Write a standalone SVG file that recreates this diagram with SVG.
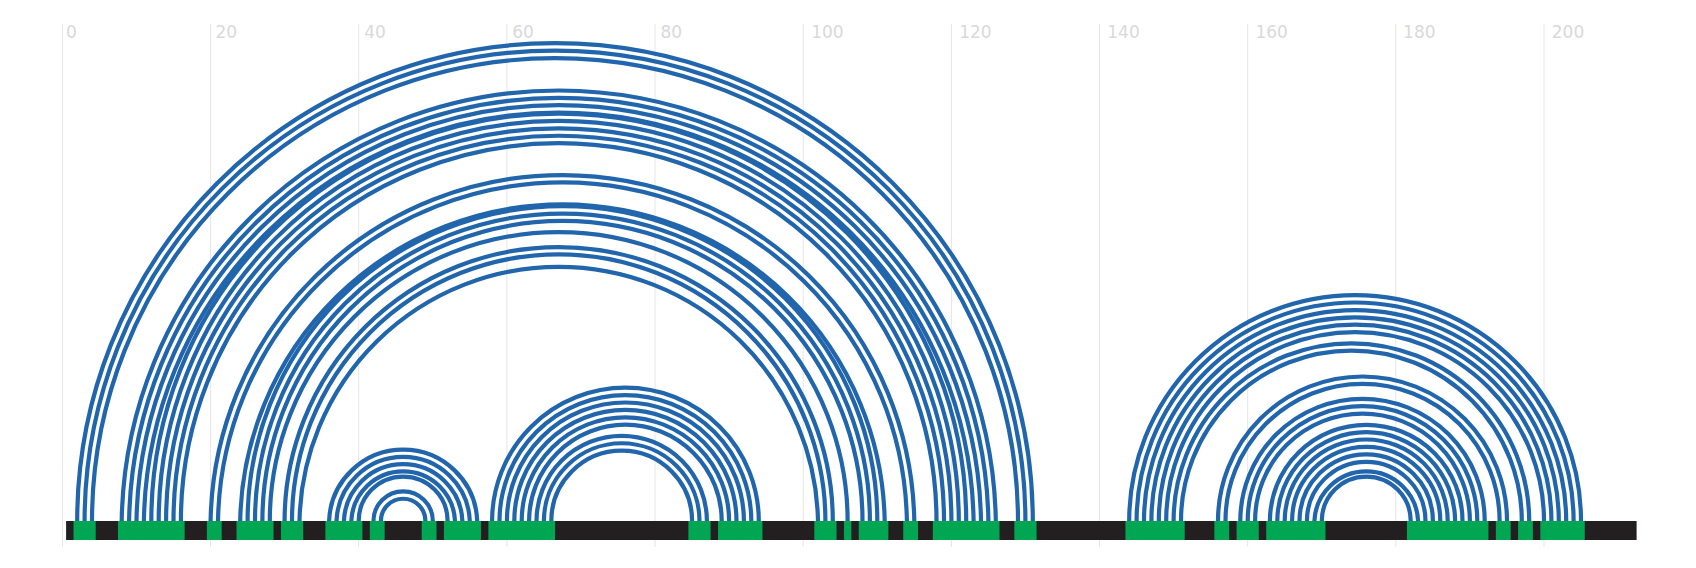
<svg xmlns="http://www.w3.org/2000/svg" width="1696" height="568" viewBox="0 0 1696 568">
<style>
.grid{stroke:#e6e6e6;stroke-width:1;fill:none}
.tick{font-family:"DejaVu Sans",sans-serif;font-size:17px;fill:#d9d9d9}
.arc{fill:none;stroke:#2166ac;stroke-width:4.2}
.bb{fill:#231f20}
.pr{fill:#00a651}
</style>
<rect width="1696" height="568" fill="#ffffff"/>
<g id="axis">
<line class="grid" x1="62.4" y1="24" x2="62.4" y2="547"/>
<line class="grid" x1="210.6" y1="24" x2="210.6" y2="547"/>
<line class="grid" x1="358.7" y1="24" x2="358.7" y2="547"/>
<line class="grid" x1="506.9" y1="24" x2="506.9" y2="547"/>
<line class="grid" x1="655.0" y1="24" x2="655.0" y2="547"/>
<line class="grid" x1="803.2" y1="24" x2="803.2" y2="547"/>
<line class="grid" x1="951.4" y1="24" x2="951.4" y2="547"/>
<line class="grid" x1="1099.5" y1="24" x2="1099.5" y2="547"/>
<line class="grid" x1="1247.7" y1="24" x2="1247.7" y2="547"/>
<line class="grid" x1="1395.8" y1="24" x2="1395.8" y2="547"/>
<line class="grid" x1="1544.0" y1="24" x2="1544.0" y2="547"/>
<text class="tick" x="65.9" y="38">0</text>
<text class="tick" x="215.5" y="38">20</text>
<text class="tick" x="364.2" y="38">40</text>
<text class="tick" x="512.3" y="38">60</text>
<text class="tick" x="660.4" y="38">80</text>
<text class="tick" x="811.2" y="38">100</text>
<text class="tick" x="959.2" y="38">120</text>
<text class="tick" x="1107.3" y="38">140</text>
<text class="tick" x="1255.4" y="38">160</text>
<text class="tick" x="1403.1" y="38">180</text>
<text class="tick" x="1551.8" y="38">200</text>
</g>
<g id="connectors">
<path class="arc" d="M77.2 521A477.8 477.8 0 0 1 1032.8 521"/>
<path class="arc" d="M84.6 521A470.4 470.4 0 0 1 1025.4 521"/>
<path class="arc" d="M92.0 521A463.0 463.0 0 0 1 1018.0 521"/>
<path class="arc" d="M121.7 521A437.1 437.1 0 0 1 995.8 521"/>
<path class="arc" d="M129.1 521A429.7 429.7 0 0 1 988.4 521"/>
<path class="arc" d="M136.5 521A422.3 422.3 0 0 1 981.0 521"/>
<path class="arc" d="M143.9 521A414.9 414.9 0 0 1 973.6 521"/>
<path class="arc" d="M151.3 521A407.4 407.4 0 0 1 966.2 521"/>
<path class="arc" d="M158.7 521A400.0 400.0 0 0 1 958.8 521"/>
<path class="arc" d="M166.1 521A392.6 392.6 0 0 1 951.4 521"/>
<path class="arc" d="M173.5 521A385.2 385.2 0 0 1 944.0 521"/>
<path class="arc" d="M180.9 521A377.8 377.8 0 0 1 936.5 521"/>
<path class="arc" d="M210.6 521A351.9 351.9 0 0 1 914.3 521"/>
<path class="arc" d="M218.0 521A344.5 344.5 0 0 1 906.9 521"/>
<path class="arc" d="M240.2 521A322.3 322.3 0 0 1 884.7 521"/>
<path class="arc" d="M247.6 521A314.8 314.8 0 0 1 877.3 521"/>
<path class="arc" d="M255.0 521A307.4 307.4 0 0 1 869.9 521"/>
<path class="arc" d="M262.4 521A300.0 300.0 0 0 1 862.5 521"/>
<path class="arc" d="M269.8 521A288.9 288.9 0 0 1 847.6 521"/>
<path class="arc" d="M284.6 521A274.1 274.1 0 0 1 832.8 521"/>
<path class="arc" d="M292.0 521A266.7 266.7 0 0 1 825.4 521"/>
<path class="arc" d="M299.5 521A259.3 259.3 0 0 1 818.0 521"/>
<path class="arc" d="M329.1 521A74.1 74.1 0 0 1 477.2 521"/>
<path class="arc" d="M336.5 521A66.7 66.7 0 0 1 469.8 521"/>
<path class="arc" d="M343.9 521A59.3 59.3 0 0 1 462.4 521"/>
<path class="arc" d="M351.3 521A51.9 51.9 0 0 1 455.0 521"/>
<path class="arc" d="M358.7 521A44.4 44.4 0 0 1 447.6 521"/>
<path class="arc" d="M373.5 521A29.6 29.6 0 0 1 432.8 521"/>
<path class="arc" d="M380.9 521A22.2 22.2 0 0 1 425.4 521"/>
<path class="arc" d="M492.1 521A133.3 133.3 0 0 1 758.8 521"/>
<path class="arc" d="M499.5 521A125.9 125.9 0 0 1 751.3 521"/>
<path class="arc" d="M506.9 521A118.5 118.5 0 0 1 743.9 521"/>
<path class="arc" d="M514.3 521A111.1 111.1 0 0 1 736.5 521"/>
<path class="arc" d="M521.7 521A103.7 103.7 0 0 1 729.1 521"/>
<path class="arc" d="M529.1 521A96.3 96.3 0 0 1 721.7 521"/>
<path class="arc" d="M536.5 521A85.2 85.2 0 0 1 706.9 521"/>
<path class="arc" d="M543.9 521A77.8 77.8 0 0 1 699.5 521"/>
<path class="arc" d="M551.3 521A70.4 70.4 0 0 1 692.1 521"/>
<path class="arc" d="M1129.2 521A225.9 225.9 0 0 1 1581.0 521"/>
<path class="arc" d="M1136.6 521A218.5 218.5 0 0 1 1573.6 521"/>
<path class="arc" d="M1144.0 521A211.1 211.1 0 0 1 1566.2 521"/>
<path class="arc" d="M1151.4 521A203.7 203.7 0 0 1 1558.8 521"/>
<path class="arc" d="M1158.8 521A196.3 196.3 0 0 1 1551.4 521"/>
<path class="arc" d="M1166.2 521A188.9 188.9 0 0 1 1544.0 521"/>
<path class="arc" d="M1173.6 521A177.8 177.8 0 0 1 1529.2 521"/>
<path class="arc" d="M1181.0 521A170.4 170.4 0 0 1 1521.8 521"/>
<path class="arc" d="M1218.0 521A144.5 144.5 0 0 1 1507.0 521"/>
<path class="arc" d="M1225.5 521A137.0 137.0 0 0 1 1499.6 521"/>
<path class="arc" d="M1240.3 521A122.2 122.2 0 0 1 1484.7 521"/>
<path class="arc" d="M1247.7 521A114.8 114.8 0 0 1 1477.3 521"/>
<path class="arc" d="M1255.1 521A107.4 107.4 0 0 1 1469.9 521"/>
<path class="arc" d="M1269.9 521A96.3 96.3 0 0 1 1462.5 521"/>
<path class="arc" d="M1277.3 521A88.9 88.9 0 0 1 1455.1 521"/>
<path class="arc" d="M1284.7 521A81.5 81.5 0 0 1 1447.7 521"/>
<path class="arc" d="M1292.1 521A74.1 74.1 0 0 1 1440.3 521"/>
<path class="arc" d="M1299.5 521A66.7 66.7 0 0 1 1432.9 521"/>
<path class="arc" d="M1306.9 521A59.3 59.3 0 0 1 1425.5 521"/>
<path class="arc" d="M1314.4 521A51.9 51.9 0 0 1 1418.1 521"/>
<path class="arc" d="M1321.8 521A44.4 44.4 0 0 1 1410.7 521"/>
</g>
<g id="sequence">
<rect class="bb" x="66.1" y="521" width="1570.5" height="19"/>
<rect class="pr" x="73.5" y="521" width="22.22" height="19"/>
<rect class="pr" x="117.96" y="521" width="66.67" height="19"/>
<rect class="pr" x="206.86" y="521" width="14.82" height="19"/>
<rect class="pr" x="236.49" y="521" width="37.04" height="19"/>
<rect class="pr" x="280.94" y="521" width="22.22" height="19"/>
<rect class="pr" x="325.38" y="521" width="37.04" height="19"/>
<rect class="pr" x="369.83" y="521" width="14.82" height="19"/>
<rect class="pr" x="421.69" y="521" width="14.82" height="19"/>
<rect class="pr" x="443.91" y="521" width="37.04" height="19"/>
<rect class="pr" x="488.36" y="521" width="66.67" height="19"/>
<rect class="pr" x="688.38" y="521" width="22.22" height="19"/>
<rect class="pr" x="718.01" y="521" width="44.45" height="19"/>
<rect class="pr" x="814.31" y="521" width="22.22" height="19"/>
<rect class="pr" x="843.94" y="521" width="7.41" height="19"/>
<rect class="pr" x="858.76" y="521" width="29.63" height="19"/>
<rect class="pr" x="903.21" y="521" width="14.82" height="19"/>
<rect class="pr" x="932.84" y="521" width="66.67" height="19"/>
<rect class="pr" x="1014.33" y="521" width="22.22" height="19"/>
<rect class="pr" x="1125.45" y="521" width="59.26" height="19"/>
<rect class="pr" x="1214.34" y="521" width="14.82" height="19"/>
<rect class="pr" x="1236.57" y="521" width="22.22" height="19"/>
<rect class="pr" x="1266.2" y="521" width="59.26" height="19"/>
<rect class="pr" x="1406.95" y="521" width="81.49" height="19"/>
<rect class="pr" x="1495.85" y="521" width="14.82" height="19"/>
<rect class="pr" x="1518.07" y="521" width="14.82" height="19"/>
<rect class="pr" x="1540.3" y="521" width="44.45" height="19"/>
</g>
</svg>
